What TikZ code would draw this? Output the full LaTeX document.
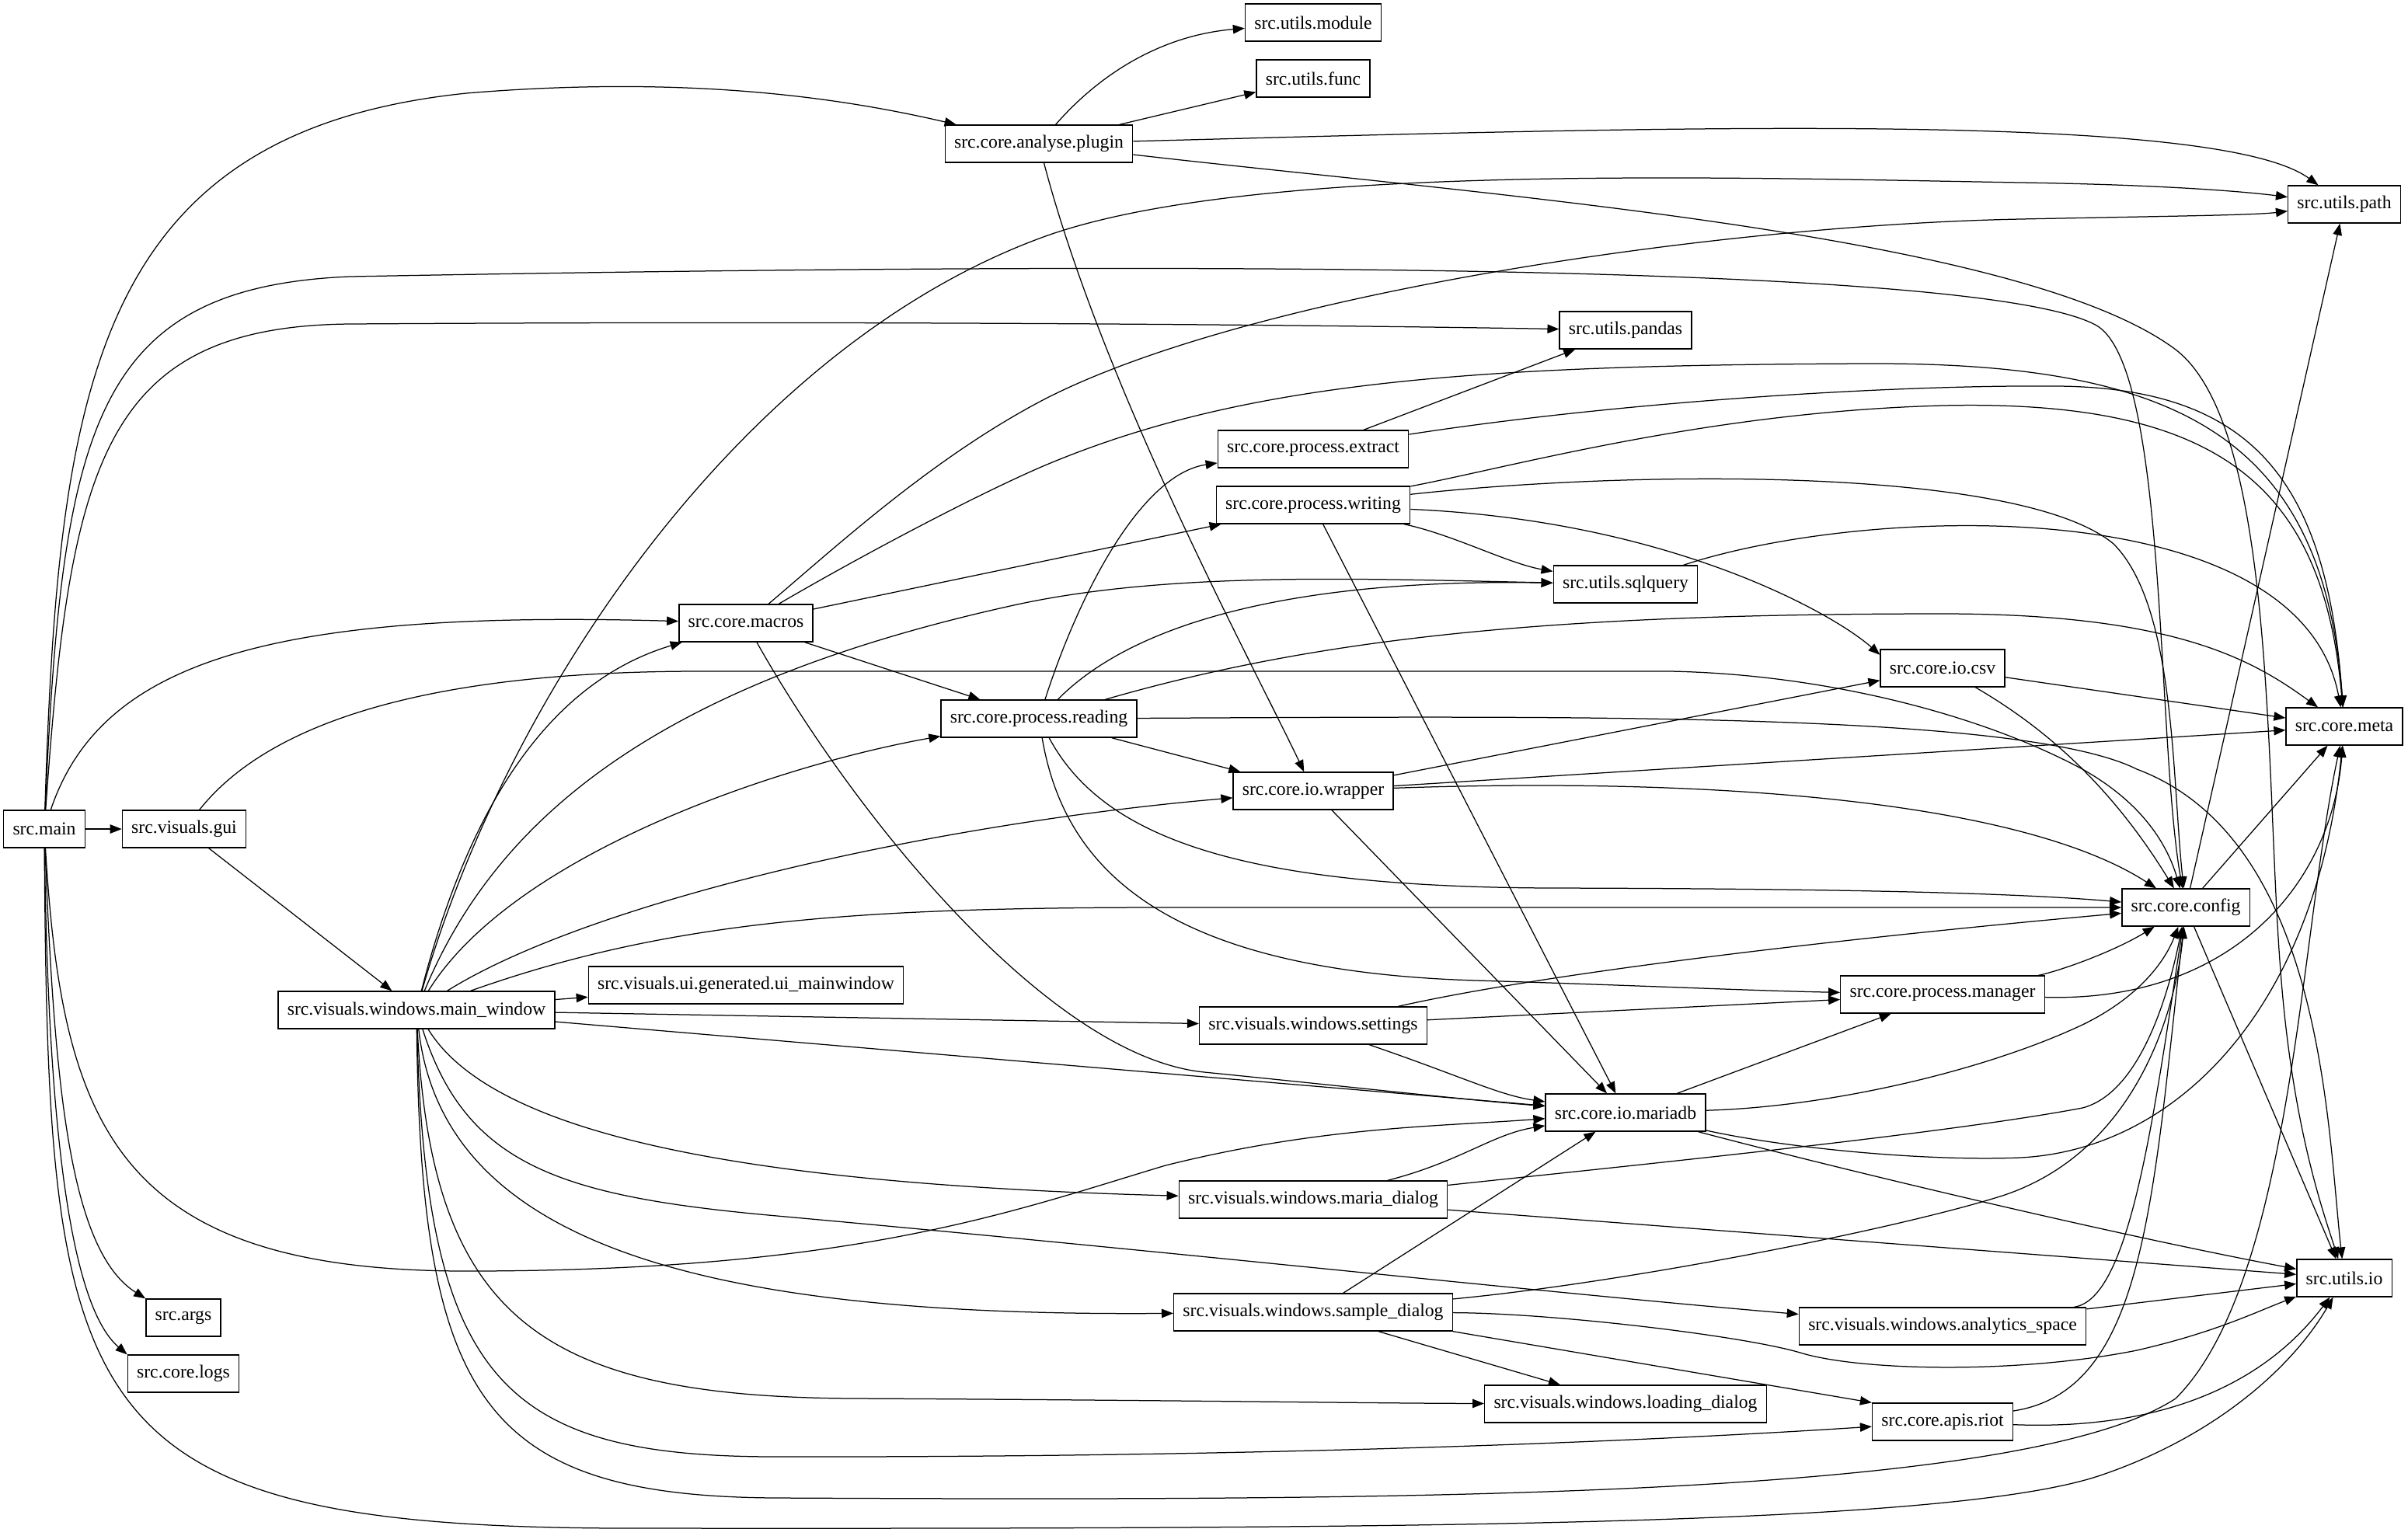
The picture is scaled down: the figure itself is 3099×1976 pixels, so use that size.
\documentclass[tikz,border=0pt]{standalone}
\usepackage{fontspec}
\setmainfont{Liberation Serif}
\usetikzlibrary{arrows.meta}
\tikzset{
  pkg/.style={draw, rectangle, line width=0.55pt, inner xsep=4.72pt, inner ysep=0pt,
    minimum height=19.2pt, font=\fontsize{9.48}{11}\selectfont},
  dep/.style={-{Triangle[length=6pt,width=4.6pt]}, line width=0.5pt},
}
\begin{document}
\begin{tikzpicture}[x=0.4pt, y=-0.4pt]
  \useasboundingbox (0,0) rectangle (3099,1976);

  % left ranks
  \node[pkg] (main) at (57,1067) {src.main};
  \node[pkg] (gui) at (237,1067) {src.visuals.gui};
  \node[pkg] (args) at (236,1696) {src.args};
  \node[pkg] (logs) at (236,1768) {src.core.logs};
  \node[pkg] (mainwin) at (536,1300) {src.visuals.windows.main\_window};
  \node[pkg] (macros) at (960,802) {src.core.macros};
  \node[pkg] (uimain) at (960,1268) {src.visuals.ui.generated.ui\_mainwindow};
  \node[pkg] (plugin) at (1337,185) {src.core.analyse.plugin};
  \node[pkg] (reading) at (1337,925) {src.core.process.reading};

  % middle rank
  \node[pkg] (umodule) at (1690,29) {src.utils.module};
  \node[pkg] (ufunc) at (1690,101) {src.utils.func};
  \node[pkg] (extract) at (1690,578) {src.core.process.extract};
  \node[pkg] (writing) at (1690,650) {src.core.process.writing};
  \node[pkg] (wrapper) at (1690,1018) {src.core.io.wrapper};
  \node[pkg] (settings) at (1690,1320) {src.visuals.windows.settings};
  \node[pkg] (mariadlg) at (1690,1544) {src.visuals.windows.maria\_dialog};
  \node[pkg] (sampledlg) at (1690,1689) {src.visuals.windows.sample\_dialog};

  % right ranks
  \node[pkg] (pandas) at (2092,425) {src.utils.pandas};
  \node[pkg] (sqlquery) at (2092,752) {src.utils.sqlquery};
  \node[pkg] (mariadb) at (2092,1432) {src.core.io.mariadb};
  \node[pkg] (loading) at (2092,1807) {src.visuals.windows.loading\_dialog};
  \node[pkg] (csv) at (2500,860) {src.core.io.csv};
  \node[pkg] (manager) at (2500,1280) {src.core.process.manager};
  \node[pkg] (analytics) at (2500,1707) {src.visuals.windows.analytics\_space};
  \node[pkg] (riot) at (2500,1830) {src.core.apis.riot};
  \node[pkg] (config) at (2813,1168) {src.core.config};
  \node[pkg] (upath) at (3017,263) {src.utils.path};
  \node[pkg] (meta) at (3017,935) {src.core.meta};
  \node[pkg] (uio) at (3017,1645) {src.utils.io};

  % src.main
  \draw[dep] (main) -- (gui);
  \draw[dep] (main) .. controls (75,500) and (120,170) .. (600,120) .. controls (900,95) and (1100,130) .. (plugin);
  \draw[dep] (main) .. controls (80,550) and (120,370) .. (450,356) .. controls (1300,340) and (2550,330) .. (2700,420) .. controls (2790,480) and (2775,950) .. (config);
  \draw[dep] (main) .. controls (90,600) and (130,420) .. (450,417) .. controls (1200,412) and (1800,420) .. (pandas);
  \draw[dep] (main) .. controls (130,850) and (350,785) .. (macros);
  \draw[dep] (main) .. controls (80,1450) and (150,1636) .. (600,1636) .. controls (1100,1636) and (1300,1560) .. (1500,1500) .. controls (1700,1450) and (1850,1450) .. (mariadb);
  \draw[dep] (main) .. controls (70,1400) and (90,1610) .. (args.north west);
  \draw[dep] (main) .. controls (62,1450) and (90,1680) .. (logs.north west);
  \draw[dep] (main) .. controls (62,1820) and (90,1965) .. (800,1967) .. controls (1800,1968) and (2500,1965) .. (2700,1900) .. controls (2850,1850) and (2950,1760) .. (uio);

  % src.visuals.gui
  \draw[dep] (gui) -- (mainwin);
  \draw[dep] (gui) .. controls (330,950) and (500,864) .. (900,864) -- (2150,864) .. controls (2350,868) and (2550,920) .. (2680,990) .. controls (2760,1035) and (2790,1090) .. (config);

  % src.visuals.windows.main_window
  \draw[dep] (mainwin) .. controls (650,900) and (950,450) .. (1340,306) .. controls (1600,210) and (2200,228) .. (2600,235) .. controls (2800,238) and (2900,248) .. (upath);
  \draw[dep] (mainwin) .. controls (640,1050) and (850,880) .. (1300,780) .. controls (1500,735) and (1750,745) .. (sqlquery);
  \draw[dep] (mainwin) .. controls (600,1050) and (700,880) .. (macros);
  \draw[dep] (mainwin) .. controls (660,1100) and (1000,985) .. (reading);
  \draw[dep] (mainwin) .. controls (760,1160) and (1200,1060) .. (wrapper);
  \draw[dep] (mainwin) .. controls (860,1185) and (1100,1168) .. (1500,1168) -- (config);
  \draw[dep] (mainwin) -- (uimain);
  \draw[dep] (mainwin) -- (settings);
  \draw[dep] (mainwin) -- (mariadb);
  \draw[dep] (mainwin) .. controls (640,1470) and (1000,1525) .. (mariadlg);
  \draw[dep] (mainwin) .. controls (600,1500) and (720,1540) .. (1000,1565) .. controls (1500,1610) and (2000,1665) .. (analytics);
  \draw[dep] (mainwin) .. controls (570,1600) and (900,1695) .. (sampledlg);
  \draw[dep] (mainwin) .. controls (555,1700) and (700,1798) .. (1100,1800) .. controls (1500,1802) and (1750,1806) .. (loading);
  \draw[dep] (mainwin) .. controls (548,1780) and (650,1875) .. (1000,1875) .. controls (1700,1876) and (2200,1850) .. (riot);
  \draw[dep] (mainwin) .. controls (542,1800) and (620,1926) .. (1000,1928) .. controls (1800,1932) and (2600,1930) .. (2800,1800) .. controls (2950,1650) and (2960,1200) .. (meta);

  % src.core.analyse.plugin
  \draw[dep] (plugin) .. controls (1420,90) and (1500,45) .. (umodule);
  \draw[dep] (plugin) -- (ufunc);
  \draw[dep] (plugin) .. controls (2100,165) and (2850,140) .. (upath);
  \draw[dep] (plugin) .. controls (1900,250) and (2600,300) .. (2800,450) .. controls (2930,550) and (2915,1000) .. (2935,1250) .. controls (2950,1450) and (2990,1560) .. (uio);
  \draw[dep] (plugin) .. controls (1420,500) and (1610,850) .. (wrapper);

  % src.core.macros
  \draw[dep] (macros) .. controls (1080,700) and (1200,590) .. (1340,516) .. controls (1600,380) and (2200,290) .. (2600,282) .. controls (2800,278) and (2900,277) .. (upath);
  \draw[dep] (macros) .. controls (1100,720) and (1250,640) .. (1340,601) .. controls (1600,490) and (1900,470) .. (2400,468) .. controls (2800,466) and (2990,560) .. (meta);
  \draw[dep] (macros) -- (writing);
  \draw[dep] (macros) -- (reading);
  \draw[dep] (macros) .. controls (1100,1050) and (1350,1360) .. (1550,1380) .. controls (1750,1400) and (1880,1415) .. (mariadb);

  % src.core.process.reading
  \draw[dep] (reading) .. controls (1390,760) and (1470,610) .. (extract);
  \draw[dep] (reading) .. controls (1470,790) and (1700,745) .. (sqlquery);
  \draw[dep] (reading) .. controls (1700,820) and (2000,790) .. (2500,790) .. controls (2800,790) and (2900,850) .. (meta);
  \draw[dep] (reading) -- (wrapper);
  \draw[dep] (reading) .. controls (2000,922) and (2600,915) .. (2750,990) .. controls (2990,1080) and (2995,1450) .. (uio);
  \draw[dep] (reading) .. controls (1420,1080) and (1600,1142) .. (2000,1143) .. controls (2400,1144) and (2600,1150) .. (config);
  \draw[dep] (reading) .. controls (1370,1120) and (1500,1250) .. (1900,1262) .. controls (2100,1268) and (2250,1275) .. (manager);

  % src.core.process.extract / writing
  \draw[dep] (extract) -- (pandas);
  \draw[dep] (extract) .. controls (2100,515) and (2450,495) .. (2650,497) .. controls (2900,500) and (2995,620) .. (meta);
  \draw[dep] (writing) .. controls (1870,688) and (1940,725) .. (sqlquery);
  \draw[dep] (writing) .. controls (2150,670) and (2360,790) .. ([yshift=-3pt]csv.north west);
  \draw[dep] (writing) .. controls (1950,600) and (2200,530) .. (2500,522) .. controls (2850,514) and (2990,620) .. (meta);
  \draw[dep] (writing) .. controls (2100,605) and (2600,600) .. (2720,700) .. controls (2800,780) and (2795,1000) .. (config);
  \draw[dep] (writing) -- (mariadb);
  \draw[dep] (sqlquery) .. controls (2400,650) and (2960,630) .. (meta);

  % src.core.io.wrapper / csv
  \draw[dep] (wrapper) -- (csv);
  \draw[dep] (wrapper) -- (meta);
  \draw[dep] (wrapper) .. controls (2200,1000) and (2600,1030) .. (config);
  \draw[dep] (wrapper) -- (mariadb);
  \draw[dep] (csv) -- (meta);
  \draw[dep] (csv) .. controls (2620,930) and (2710,1000) .. (config);

  % src.core.config / manager
  \draw[dep] (config) -- (upath);
  \draw[dep] (config) -- (meta);
  \draw[dep] (config) -- (uio);
  \draw[dep] (manager) .. controls (2650,1250) and (2720,1225) .. (config);
  \draw[dep] (manager) .. controls (2870,1290) and (3000,1140) .. (meta);

  % src.visuals.windows.settings
  \draw[dep] (settings) .. controls (2000,1250) and (2400,1205) .. (config);
  \draw[dep] (settings) -- (manager);
  \draw[dep] (settings) .. controls (1880,1385) and (1930,1410) .. (mariadb);

  % src.core.io.mariadb
  \draw[dep] (mariadb) -- (manager);
  \draw[dep] (mariadb) .. controls (2350,1425) and (2550,1380) .. (2680,1319) .. controls (2750,1285) and (2785,1240) .. (config);
  \draw[dep] (mariadb) .. controls (2300,1478) and (2480,1495) .. (2600,1490) .. controls (2800,1480) and (2980,1300) .. (meta);
  \draw[dep] (mariadb) .. controls (2350,1500) and (2700,1585) .. (uio);

  % dialogs
  \draw[dep] (mariadlg) .. controls (1880,1495) and (1920,1460) .. (mariadb);
  \draw[dep] (mariadlg) .. controls (2100,1500) and (2500,1460) .. (2680,1426) .. controls (2760,1405) and (2795,1260) .. (config);
  \draw[dep] (mariadlg) -- (uio);
  \draw[dep] (sampledlg) -- (mariadb);
  \draw[dep] (sampledlg) .. controls (2100,1650) and (2450,1580) .. (2580,1538) .. controls (2750,1480) and (2800,1300) .. (config);
  \draw[dep] (sampledlg) .. controls (2000,1690) and (2250,1720) .. (2320,1742) .. controls (2400,1765) and (2600,1768) .. (2750,1738) .. controls (2850,1715) and (2900,1690) .. (uio);
  \draw[dep] (sampledlg.south east) -- (riot.north west);
  \draw[dep] (sampledlg) -- (loading);

  % src.visuals.windows.analytics_space / src.core.apis.riot
  \draw[dep] (analytics) .. controls (2740,1672) and (2770,1450) .. (config);
  \draw[dep] (analytics) -- (uio);
  \draw[dep] (riot) .. controls (2760,1790) and (2770,1550) .. (config);
  \draw[dep] (riot) .. controls (2750,1840) and (2900,1800) .. (uio);
\end{tikzpicture}
\end{document}
